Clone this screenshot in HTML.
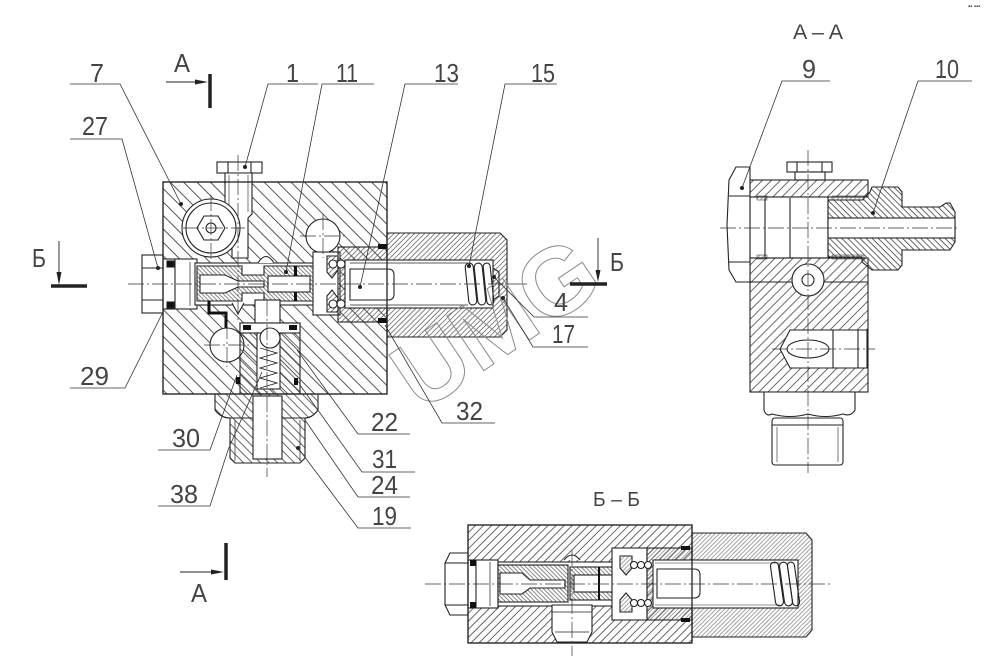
<!DOCTYPE html>
<html><head><meta charset="utf-8"><style>
html,body{margin:0;padding:0;background:#fff;}
svg{display:block;}
text{font-family:"Liberation Sans","DejaVu Sans",sans-serif;fill:#444;}
</style></head><body>
<svg width="1000" height="659" viewBox="0 0 1000 659" xmlns="http://www.w3.org/2000/svg">
<defs>
<pattern id="hb" width="9.5" height="10" patternUnits="userSpaceOnUse" patternTransform="rotate(-45)"><line x1="1" y1="0" x2="1" y2="10" stroke="#444" stroke-width="0.9"/></pattern>
<pattern id="hsl" width="3.6" height="10" patternUnits="userSpaceOnUse" patternTransform="rotate(45)"><line x1="1" y1="0" x2="1" y2="10" stroke="#555" stroke-width="0.7"/></pattern>
<pattern id="hsp" width="3" height="10" patternUnits="userSpaceOnUse" patternTransform="rotate(-45)"><line x1="1" y1="0" x2="1" y2="10" stroke="#555" stroke-width="0.7"/></pattern>
<pattern id="hf" width="6" height="10" patternUnits="userSpaceOnUse" patternTransform="rotate(-45)"><line x1="1" y1="0" x2="1" y2="10" stroke="#444" stroke-width="0.8"/></pattern>
<pattern id="haa" width="6.4" height="10" patternUnits="userSpaceOnUse" patternTransform="rotate(45)"><line x1="1" y1="0" x2="1" y2="10" stroke="#444" stroke-width="0.8"/></pattern>
<pattern id="haf" width="4.3" height="10" patternUnits="userSpaceOnUse" patternTransform="rotate(-45)"><line x1="1" y1="0" x2="1" y2="10" stroke="#444" stroke-width="0.8"/></pattern>
<pattern id="hbb" width="5.7" height="10" patternUnits="userSpaceOnUse" patternTransform="rotate(45)"><line x1="1" y1="0" x2="1" y2="10" stroke="#444" stroke-width="0.8"/></pattern>
<pattern id="hbs" width="3" height="10" patternUnits="userSpaceOnUse" patternTransform="rotate(45)"><line x1="1" y1="0" x2="1" y2="10" stroke="#666" stroke-width="0.6"/></pattern>
</defs>
<rect width="1000" height="659" fill="#fff"/>

<!-- ================= MAIN VIEW ================= -->
<g stroke="#222" stroke-width="1.1" fill="none">
  <rect x="163" y="182" width="224" height="212" fill="url(#hb)"/>
  <rect x="217" y="162" width="45" height="11" fill="#fff"/>
  <line x1="228" y1="162" x2="228" y2="173"/><line x1="251" y1="162" x2="251" y2="173"/>
  <path d="M225,173 H252 V214 L248,218 V258 H232 V218 L225,214 Z" fill="#fff"/>
  <line x1="229" y1="175" x2="229" y2="212" stroke-width="0.6"/>
  <line x1="248" y1="175" x2="248" y2="212" stroke-width="0.6"/>
  <circle cx="211" cy="228" r="29" fill="#fff"/>
  <circle cx="211" cy="228" r="25"/>
  <polygon points="225,228 218,240 204,240 197,228 204,216 218,216"/>
  <circle cx="211" cy="228" r="5"/>
  <circle cx="323" cy="236" r="17" fill="#fff"/>
  <rect x="163" y="259" width="34" height="50" fill="#fff"/>
  <line x1="175" y1="259" x2="175" y2="309"/>
  <line x1="190" y1="262" x2="190" y2="306" stroke-width="0.7"/>
  <rect x="167" y="261" width="7" height="6" fill="#111"/>
  <rect x="167" y="302" width="7" height="6" fill="#111"/>
  <rect x="142" y="255" width="21" height="58" fill="#fff"/>
  <line x1="142" y1="268" x2="163" y2="268"/><line x1="142" y1="300" x2="163" y2="300"/>
  <rect x="195" y="263" width="127" height="42" fill="#fff"/>
  <path d="M197,266 H242 V275 H264 V266 H322 V301 H264 V293 H242 V301 H197 Z" fill="url(#hsp)"/>
  <path d="M200,275 H225 L238,281 H264 V287 H238 L225,293 H200 Z" fill="#fff"/>
  <rect x="268" y="276" width="42" height="16" fill="#fff"/>
  <rect x="294" y="266" width="3" height="10" fill="#111" stroke="none"/>
  <rect x="294" y="292" width="3" height="9" fill="#111" stroke="none"/>
  <path d="M258,263 Q266,250 274,263" fill="#fff"/>
  <path d="M232,303 L238,314 L244,303" fill="#fff"/>
  <path d="M322,271 H330 L336,284 L330,297 H322 Z" fill="#fff"/>
  <rect x="313" y="252" width="27" height="63" fill="#fff"/>
  <rect x="338" y="247" width="49" height="75" fill="url(#hsl)"/>
  <path d="M327,256 H338 V270 L332,278 L327,272 Z" fill="url(#hsl)"/>
  <path d="M327,312 H338 V298 L332,290 L327,296 Z" fill="url(#hsl)"/>
  <path d="M387,233 H500 L507,240 V330 L500,337 H387 Z" fill="url(#hsl)"/>
  <rect x="345" y="260" width="148" height="48" fill="#fff"/>
  <circle cx="333" cy="264" r="4" fill="#fff"/><circle cx="341" cy="264" r="4" fill="#fff"/>
  <circle cx="333" cy="304" r="4" fill="#fff"/><circle cx="341" cy="304" r="4" fill="#fff"/>
  <line x1="350" y1="263" x2="468" y2="263" stroke-width="0.7"/>
  <line x1="350" y1="305" x2="468" y2="305" stroke-width="0.7"/>
  <path d="M350,269 H388 Q394,269 394,275 V294 Q394,300 388,300 H350 Z" fill="#fff"/>
  <rect x="467" y="263" width="8" height="42" rx="4" transform="rotate(-6 471 284)"/>
  <rect x="476" y="263" width="8" height="42" rx="4" transform="rotate(-6 480 284)"/>
  <rect x="485" y="263" width="7" height="42" rx="3.5" transform="rotate(-6 488 284)"/>
  <path d="M493,268 L499,272 V296 L493,300" />
  <rect x="378" y="244" width="9" height="5" fill="#111" stroke="none"/>
  <rect x="378" y="318" width="9" height="5" fill="#111" stroke="none"/>
  <circle cx="227" cy="345" r="17" fill="#fff"/>
  <rect x="255" y="300" width="25" height="24" fill="#fff"/>
  <rect x="240" y="323" width="60" height="71" fill="url(#hf)"/>
  <rect x="240" y="323" width="60" height="10" fill="#fff"/>
  <rect x="243" y="325" width="8" height="5" fill="#111" stroke="none"/>
  <rect x="289" y="325" width="8" height="5" fill="#111" stroke="none"/>
  <rect x="257" y="333" width="23" height="56" fill="#fff"/>
  <circle cx="270" cy="338" r="10" fill="#fff"/>
  <polyline points="260,348 277,353 260,358 277,363 260,368 277,373 260,378 277,383 260,388" stroke-width="0.9"/>
  <rect x="236" y="377" width="4" height="7" fill="#111" stroke="none"/>
  <rect x="294" y="378" width="4" height="7" fill="#111" stroke="none"/>
  <path d="M215,394 H318 V410 Q312,418 305,418 H230 Q221,418 215,410 Z" fill="url(#hf)"/>
  <path d="M230,418 H305 V458 L300,463 H235 L230,458 Z" fill="url(#hf)"/>
  <rect x="253" y="396" width="29" height="63" fill="#fff"/>
  <line x1="235" y1="420" x2="235" y2="461" stroke-width="0.7"/>
  <line x1="300" y1="420" x2="300" y2="461" stroke-width="0.7"/>
  <path d="M209,301 V313 H226 V328" stroke="#111" stroke-width="3"/>
  <rect x="163" y="182" width="224" height="212" stroke-width="1.3"/>
</g>
<g stroke="#333" stroke-width="0.7" stroke-dasharray="16 3 2 3" fill="none">
  <line x1="128" y1="284" x2="512" y2="284"/>
  <line x1="238" y1="155" x2="238" y2="320"/>
  <line x1="267" y1="300" x2="267" y2="477"/>
  <line x1="183" y1="228" x2="245" y2="228"/>
  <line x1="211" y1="195" x2="211" y2="262"/>
  <line x1="300" y1="236" x2="346" y2="236"/>
  <line x1="323" y1="214" x2="323" y2="258"/>
  <line x1="204" y1="345" x2="250" y2="345"/>
  <line x1="227" y1="323" x2="227" y2="367"/>
</g>
<line x1="507" y1="284" x2="527" y2="284" stroke="#333" stroke-width="0.8"/>

<!-- ================= A-A VIEW ================= -->
<g stroke="#222" stroke-width="1.1" fill="none">
  <rect x="787" y="162" width="45" height="10" fill="#fff"/>
  <line x1="797" y1="162" x2="797" y2="172"/><line x1="822" y1="162" x2="822" y2="172"/>
  <rect x="795" y="172" width="30" height="8" fill="#fff"/>
  <rect x="750" y="180" width="118" height="17" fill="url(#haa)"/>
  <rect x="750" y="197" width="78" height="61" fill="#fff"/>
  <rect x="757" y="196" width="10" height="4" fill="url(#hbs)" stroke-width="0.5"/>
  <rect x="757" y="255" width="10" height="4" fill="url(#hbs)" stroke-width="0.5"/>
  <line x1="765" y1="198" x2="765" y2="258"/><line x1="790" y1="198" x2="790" y2="258"/>
  <rect x="750" y="258" width="118" height="134" fill="url(#haa)"/>
  <line x1="750" y1="282" x2="868" y2="282"/>
  <circle cx="808" cy="280" r="16" fill="#fff"/>
  <circle cx="808" cy="280" r="6" fill="#fff"/>
  <path d="M790,330 H867 V368 H790 L780,349 Z" fill="#fff"/>
  <line x1="833" y1="330" x2="833" y2="368"/><line x1="858" y1="330" x2="858" y2="368"/>
  <ellipse cx="808" cy="349" rx="21" ry="9" fill="#fff"/>
  <path d="M764,392 H855 V410 Q851,417 843,414 Q825,419 808,414 Q790,419 772,414 Q766,417 764,410 Z" fill="#fff"/>
  <rect x="772" y="418" width="71" height="47" rx="3" fill="#fff"/>
  <line x1="772" y1="425" x2="843" y2="425"/>
  <line x1="777" y1="427" x2="777" y2="462" stroke-width="0.6"/>
  <line x1="838" y1="427" x2="838" y2="462" stroke-width="0.6"/>
  <path d="M736,167 H750 V282 H736 L729,270 L727,225 L729,180 Z" fill="#fff"/>
  <line x1="729" y1="196" x2="750" y2="196"/><line x1="729" y1="262" x2="750" y2="262"/>
  <path d="M828,200 H862 L870,192 L872,187 H898 L902,192 V207 H940 L946,203 H950 L955,212 V242 L950,250 H902 V265 L898,270 H872 L862,262 V257 H828 Z" fill="url(#haf)"/>
  <rect x="828" y="218" width="127" height="20" fill="#fff"/>
  <rect x="832" y="196" width="32" height="4" fill="url(#hbs)" stroke-width="0.5"/>
  <rect x="832" y="255" width="32" height="4" fill="url(#hbs)" stroke-width="0.5"/>
</g>
<g stroke="#333" stroke-width="0.7" stroke-dasharray="16 3 2 3" fill="none">
  <line x1="720" y1="228" x2="960" y2="228"/>
  <line x1="808" y1="150" x2="808" y2="473"/>
  <line x1="772" y1="349" x2="875" y2="349"/>
</g>

<!-- ================= Б-Б VIEW ================= -->
<g stroke="#222" stroke-width="1.1" fill="none">
  <rect x="468" y="525" width="224" height="118" fill="url(#hbb)"/>
  <path d="M692,533 H806 L812,540 V630 L806,637 H692 Z" fill="url(#hbs)"/>
  <path d="M450,553 H468 V615 H450 L445,605 V563 Z" fill="#fff"/>
  <line x1="445" y1="563" x2="468" y2="563"/><line x1="445" y1="605" x2="468" y2="605"/>
  <rect x="468" y="560" width="30" height="48" fill="#fff"/>
  <line x1="476" y1="560" x2="476" y2="608"/><line x1="490" y1="562" x2="490" y2="606" stroke-width="0.7"/>
  <rect x="470" y="560" width="6" height="6" fill="#111" stroke="none"/>
  <rect x="470" y="602" width="6" height="6" fill="#111" stroke="none"/>
  <rect x="498" y="562" width="135" height="44" fill="#fff"/>
  <rect x="498" y="565" width="70" height="37" fill="url(#hsp)"/>
  <rect x="570" y="567" width="58" height="33" fill="url(#hsp)"/>
  <path d="M500,573 H522 L530,580 H565 V588 H530 L522,594 H500 Z" fill="#fff"/>
  <rect x="574" y="575" width="38" height="17" fill="#fff"/>
  <rect x="598" y="567" width="2" height="33" fill="#111" stroke="none"/>
  <path d="M628,569 H638 L645,584 L638,599 H628 Z" fill="#fff"/>
  <path d="M564,560 Q572,550 580,560" fill="#fff"/>
  <rect x="612" y="548" width="35" height="72" fill="#fff"/>
  <path d="M620,556 H632 V568 L626,575 L620,568 Z" fill="url(#hbs)"/>
  <path d="M620,612 H632 V600 L626,593 L620,600 Z" fill="url(#hbs)"/>
  <rect x="647" y="548" width="45" height="72" fill="url(#hbs)"/>
  <rect x="653" y="560" width="145" height="48" fill="#fff"/>
  <circle cx="634" cy="565" r="3.5" fill="#fff"/><circle cx="641" cy="565" r="3.5" fill="#fff"/><circle cx="648" cy="565" r="3.5" fill="#fff"/>
  <circle cx="634" cy="603" r="3.5" fill="#fff"/><circle cx="641" cy="603" r="3.5" fill="#fff"/><circle cx="648" cy="603" r="3.5" fill="#fff"/>
  <line x1="655" y1="563" x2="780" y2="563" stroke-width="0.6"/>
  <line x1="655" y1="605" x2="780" y2="605" stroke-width="0.6"/>
  <path d="M657,569 H694 Q700,569 700,575 V592 Q700,598 694,598 H657 Z" fill="#fff"/>
  <rect x="773" y="562" width="8" height="44" rx="4" transform="rotate(-8 777 584)"/>
  <rect x="782" y="562" width="8" height="44" rx="4" transform="rotate(-8 786 584)"/>
  <rect x="790" y="562" width="7" height="44" rx="3.5" transform="rotate(-8 793 584)"/>
  <rect x="681" y="546" width="9" height="4" fill="#111" stroke="none"/>
  <rect x="681" y="618" width="9" height="4" fill="#111" stroke="none"/>
  <path d="M552,605 H592 V632 L587,642 H557 L552,632 Z" fill="#fff"/>
  <line x1="552" y1="612" x2="592" y2="612" stroke-width="0.7"/>
  <line x1="555" y1="632" x2="589" y2="632" stroke-width="0.7"/>
  <rect x="468" y="525" width="224" height="118" stroke-width="1.3"/>
</g>
<g stroke="#333" stroke-width="0.7" stroke-dasharray="16 3 2 3" fill="none">
  <line x1="425" y1="584" x2="833" y2="584"/>
  <line x1="572" y1="550" x2="572" y2="656"/>
</g>

<!-- ================= WATERMARK ================= -->
<text x="0" y="0" transform="translate(421 413) rotate(-34)" font-size="96" font-weight="bold" fill="none" stroke="#8c8c8c" stroke-width="1" style="fill:none">UMG</text>

<!-- ================= LEADERS ================= -->
<g stroke="#333" stroke-width="0.8" fill="none">
  <polyline points="70,84 120,84 181,204"/>
  <polyline points="318,84 268,84 245,167"/>
  <polyline points="374,84 322,84 286,272"/>
  <polyline points="458,84 405,84 360,287"/>
  <polyline points="557,84 505,84 469,266"/>
  <polyline points="70,139 122,139 158,268"/>
  <polyline points="70,388 125,388 163,312"/>
  <polyline points="158,450 210,450 237,375"/>
  <polyline points="158,506 210,506 228,450 262,372"/>
  <polyline points="410,434 358,434 297,350"/>
  <polyline points="415,472 362,472 300,385"/>
  <polyline points="410,497 358,497 305,420"/>
  <polyline points="411,528 358,528 298,448"/>
  <polyline points="495,423 442,423 385,325"/>
  <polyline points="588,347 533,347 503,298"/>
  <polyline points="588,317 534,317 494,277"/>
  <polyline points="830,81 782,81 742,188"/>
  <polyline points="972,81 918,81 873,213"/>
</g>
<g fill="#222">
  <circle cx="181" cy="204" r="2"/><circle cx="245" cy="167" r="2"/><circle cx="286" cy="272" r="2"/>
  <circle cx="360" cy="287" r="2"/><circle cx="469" cy="266" r="2"/><circle cx="158" cy="268" r="2"/>
  <circle cx="298" cy="448" r="2"/><circle cx="503" cy="298" r="2"/><circle cx="494" cy="277" r="2"/>
  <circle cx="742" cy="188" r="2"/><circle cx="873" cy="213" r="2"/>
</g>

<!-- ================= SECTION MARKERS ================= -->
<g stroke="#222" fill="#222">
  <line x1="166" y1="82" x2="200" y2="82" stroke-width="0.9"/>
  <polygon points="195,79.5 208,82 195,84.5" stroke="none"/>
  <line x1="210" y1="74" x2="210" y2="108" stroke-width="3.5"/>
  <line x1="59" y1="241" x2="59" y2="278" stroke-width="0.9"/>
  <polygon points="56.5,272 59,285 61.5,272" stroke="none"/>
  <line x1="51" y1="286" x2="87" y2="286" stroke-width="3.5"/>
  <line x1="598" y1="238" x2="598" y2="275" stroke-width="0.9"/>
  <polygon points="595.5,270 598,282 600.5,270" stroke="none"/>
  <line x1="570" y1="284" x2="607" y2="284" stroke-width="3.5"/>
  <line x1="180" y1="572" x2="215" y2="572" stroke-width="0.9"/>
  <polygon points="211,569.5 224,572 211,574.5" stroke="none"/>
  <line x1="226" y1="543" x2="226" y2="580" stroke-width="3.5"/>
</g>

<!-- ================= TEXT ================= -->
<g font-size="26">
  <text x="90" y="82" textLength="14" lengthAdjust="spacingAndGlyphs">7</text>
  <text x="286" y="82" textLength="13" lengthAdjust="spacingAndGlyphs">1</text>
  <text x="336" y="82" textLength="22" lengthAdjust="spacingAndGlyphs">11</text>
  <text x="434" y="82" textLength="25" lengthAdjust="spacingAndGlyphs">13</text>
  <text x="531" y="82" textLength="24" lengthAdjust="spacingAndGlyphs">15</text>
  <text x="82" y="135" textLength="26" lengthAdjust="spacingAndGlyphs">27</text>
  <text x="80" y="385" textLength="29" lengthAdjust="spacingAndGlyphs">29</text>
  <text x="172" y="447" textLength="28" lengthAdjust="spacingAndGlyphs">30</text>
  <text x="170" y="503" textLength="28" lengthAdjust="spacingAndGlyphs">38</text>
  <text x="371" y="431" textLength="27" lengthAdjust="spacingAndGlyphs">22</text>
  <text x="372" y="468" textLength="25" lengthAdjust="spacingAndGlyphs">31</text>
  <text x="371" y="494" textLength="27" lengthAdjust="spacingAndGlyphs">24</text>
  <text x="372" y="525" textLength="25" lengthAdjust="spacingAndGlyphs">19</text>
  <text x="456" y="420" textLength="27" lengthAdjust="spacingAndGlyphs">32</text>
  <text x="552" y="343" textLength="23" lengthAdjust="spacingAndGlyphs">17</text>
  <text x="554" y="311" textLength="14" lengthAdjust="spacingAndGlyphs">4</text>
  <text x="802" y="78" textLength="14" lengthAdjust="spacingAndGlyphs">9</text>
  <text x="935" y="78" textLength="24" lengthAdjust="spacingAndGlyphs">10</text>
  <text x="174" y="72" textLength="16" lengthAdjust="spacingAndGlyphs">A</text>
  <text x="32" y="267" textLength="14" lengthAdjust="spacingAndGlyphs">Б</text>
  <text x="610" y="271" textLength="14" lengthAdjust="spacingAndGlyphs">Б</text>
  <text x="191" y="602" textLength="16" lengthAdjust="spacingAndGlyphs">A</text>
</g>
<text x="793" y="39" font-size="21" textLength="50" lengthAdjust="spacingAndGlyphs">A – A</text>
<text x="593" y="506" font-size="20" textLength="47" lengthAdjust="spacingAndGlyphs">Б – Б</text>
<text x="968" y="8" font-size="6" fill="#777">▪▪ ▪▪▪</text>
</svg>
</body></html>
